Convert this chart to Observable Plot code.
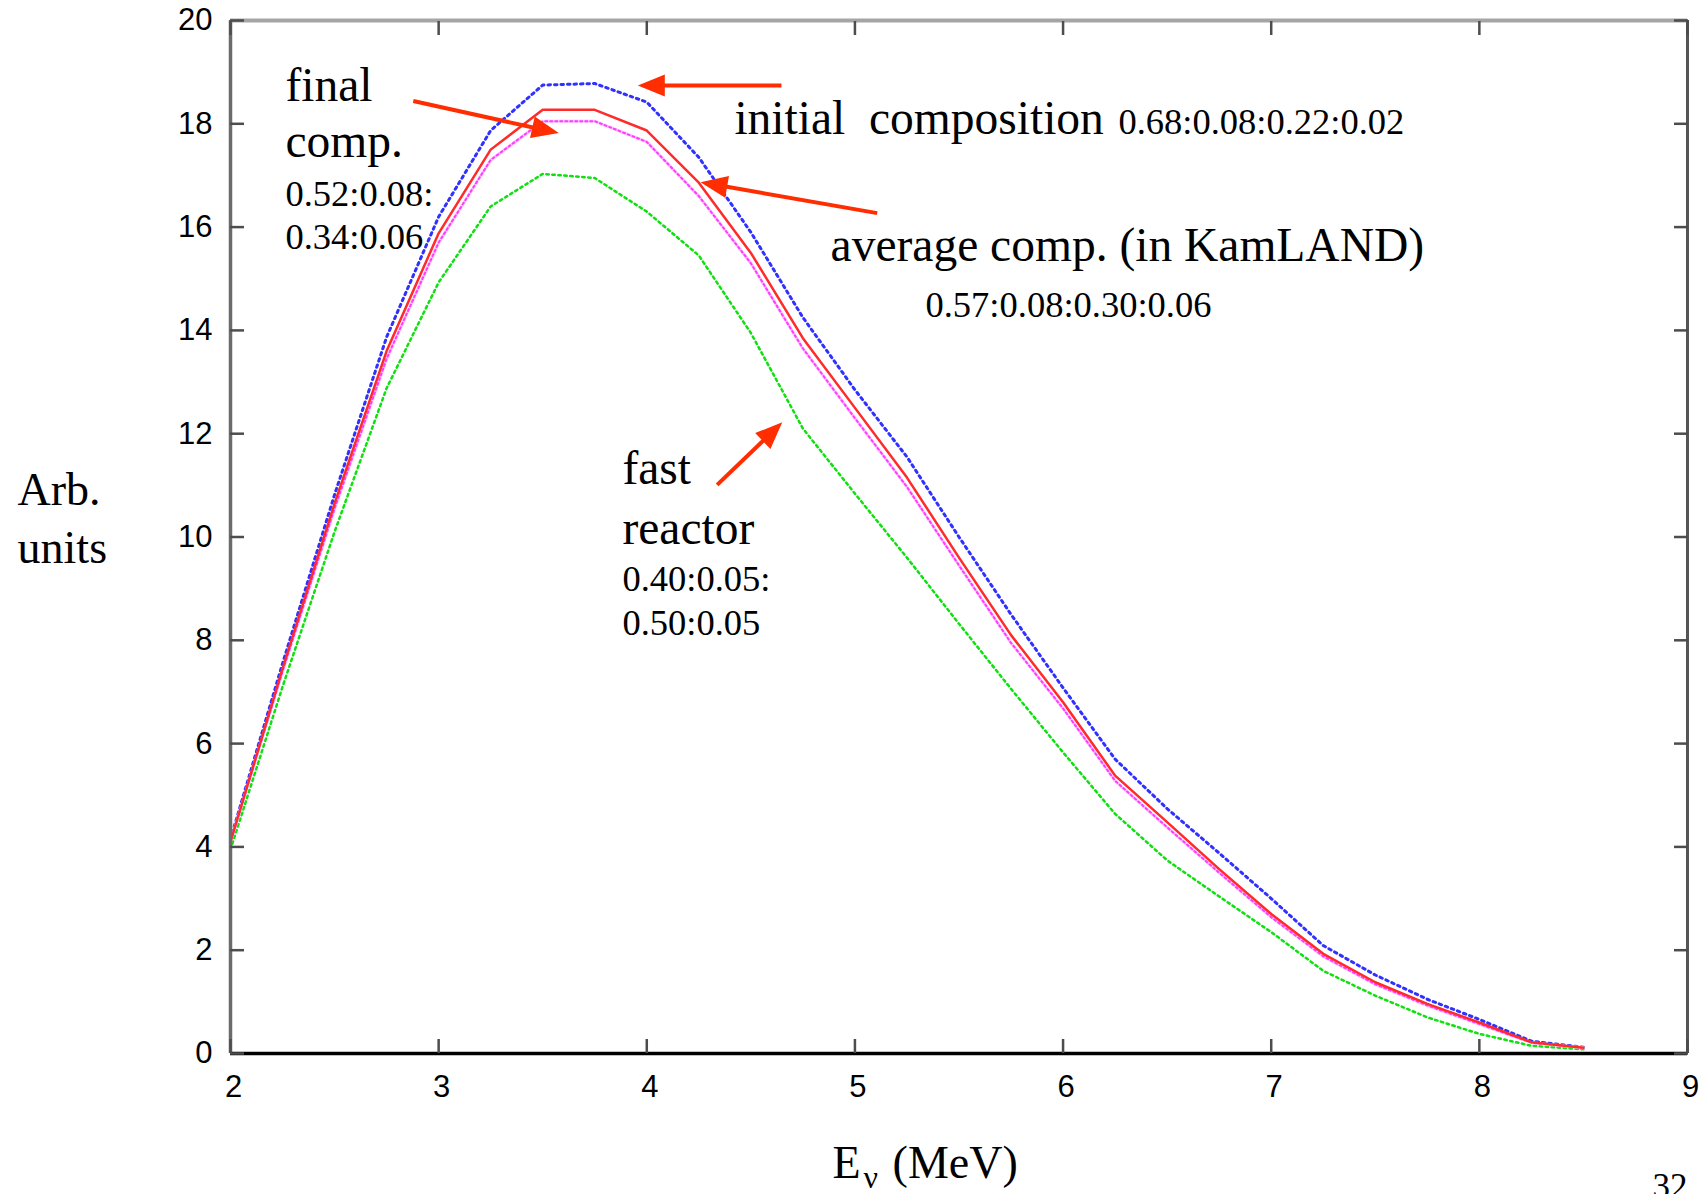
<!DOCTYPE html>
<html><head><meta charset="utf-8">
<script src="https://cdn.jsdelivr.net/npm/d3@7"></script>
<script src="https://cdn.jsdelivr.net/npm/@observablehq/plot@0.6"></script>
<style>html,body{margin:0;padding:0;background:#fff;overflow:hidden}</style>
</head><body><div id="chart"></div>
<script>
// ---- data ----
const energy      = [2, 2.25, 2.5, 2.75, 3, 3.25, 3.5, 3.75, 4, 4.25, 4.5, 4.75, 5, 5.25, 5.5, 5.75, 6, 6.25, 6.5, 6.75, 7, 7.25, 7.5, 7.75, 8, 8.25, 8.5];
const initialComp = [4.15, 7.55, 10.82, 13.87, 16.2, 17.87, 18.75, 18.78, 18.42, 17.35, 15.9, 14.25, 12.85, 11.55, 10.0, 8.5, 7.08, 5.7, 4.74, 3.88, 3.0, 2.09, 1.52, 1.05, 0.66, 0.24, 0.12];
const averageComp = [4.1, 7.45, 10.65, 13.6, 15.88, 17.5, 18.27, 18.27, 17.87, 16.86, 15.5, 13.85, 12.5, 11.15, 9.6, 8.1, 6.8, 5.38, 4.48, 3.57, 2.70, 1.93, 1.38, 0.96, 0.6, 0.22, 0.11];
const finalComp   = [4.1, 7.4, 10.55, 13.45, 15.7, 17.3, 18.05, 18.05, 17.65, 16.6, 15.3, 13.65, 12.3, 10.97, 9.45, 7.95, 6.68, 5.28, 4.38, 3.5, 2.64, 1.88, 1.34, 0.93, 0.57, 0.21, 0.11];
const fastReactor = [3.95, 7.1, 10.1, 12.88, 14.93, 16.4, 17.03, 16.95, 16.3, 15.45, 13.95, 12.1, 10.84, 9.6, 8.32, 7.06, 5.83, 4.64, 3.74, 3.04, 2.35, 1.6, 1.12, 0.7, 0.38, 0.15, 0.08];

const xTicks = [2, 3, 4, 5, 6, 7, 8, 9];
const yTicks = [0, 2, 4, 6, 8, 10, 12, 14, 16, 18, 20];

// annotation texts (data coordinates: x in MeV, y in arb. units; baseline-left)
const bigNotes = [
  {text: "final", x: 2.264, y: 18.45},
  {text: "comp.", x: 2.264, y: 17.35},
  {text: "initial\u00a0 composition", x: 4.421, y: 17.81},
  {text: "average comp. (in KamLAND)", x: 4.883, y: 15.35},
  {text: "fast", x: 3.883, y: 11.02},
  {text: "reactor", x: 3.883, y: 9.874}
];
const ratioNotes = [
  {text: "0.52:0.08:", x: 2.264, y: 16.40},
  {text: "0.34:0.06", x: 2.264, y: 15.57},
  {text: "0.68:0.08:0.22:0.02", x: 6.266, y: 17.81},
  {text: "0.57:0.08:0.30:0.06", x: 5.339, y: 14.25},
  {text: "0.40:0.05:", x: 3.883, y: 8.964},
  {text: "0.50:0.05", x: 3.883, y: 8.112}
];
const yTitle = [{text: "Arb.", x: 0.977, y: 10.61}, {text: "units", x: 0.977, y: 9.487}];
const xTitle = [{text: "E", x: 4.892, y: -2.401}, {text: "(MeV)", x: 5.181, y: -2.401}];
const xTitleSub = [{text: "ν", x: 5.041, y: -2.61}];
const pageNo = [{text: "32", x: 8.832, y: -2.80}];

const arrowList = [
  {x1: 2.878, y1: 18.44, x2: 3.577, y2: 17.82},
  {x1: 4.647, y1: 18.74, x2: 3.957, y2: 18.74},
  {x1: 5.107, y1: 16.27, x2: 4.258, y2: 16.87},
  {x1: 4.338, y1: 11.01, x2: 4.651, y2: 12.22}
];

// ---- layout ----
const W = 1704, H = 1194, ML = 230, MR = 17, MT = 20, MB = 141;
const kx = (W - ML - MR) / (9 - 2), ky = (H - MT - MB) / (20 - 0);
const headL = 27, headW = 22;
const RED = "#ff2d00";

const arrows = arrowList.map(a => {
  const sx = (a.x2 - a.x1) * kx, sy = -(a.y2 - a.y1) * ky;
  const L = Math.hypot(sx, sy), ux = sx / L, uy = sy / L;
  return {...a,
    angle: Math.atan2(sx, -sy) * 180 / Math.PI,
    ex: a.x2 - ux * (headL - 3) / kx,
    ey: a.y2 + uy * (headL - 3) / ky};
});
const arrowHead = {draw(ctx) { ctx.moveTo(0, 0); ctx.lineTo(-headW / 2, headL); ctx.lineTo(headW / 2, headL); ctx.closePath(); }};

const serif = "Liberation Serif";
const txt = (data, size, extra = {}) => Plot.text(data, {x: "x", y: "y", text: "text", fontSize: size, fontFamily: serif,
  textAnchor: "start", lineAnchor: "bottom", fill: "black", ...extra});

const tickStyle = {stroke: "#4d4d4d", strokeWidth: 2.5, tickSize: 14, fill: "none", label: null};
const fmt = d3.format("d");

const chart = Plot.plot({
  width: W, height: H,
  marginLeft: ML, marginRight: MR, marginTop: MT, marginBottom: MB,
  x: {domain: [2, 9]},
  y: {domain: [0, 20]},
  style: {fontFamily: "Liberation Sans", background: "white", color: "black", overflow: "visible"},
  marks: [
    // curves
    Plot.line(energy, {x: energy, y: fastReactor, stroke: "#10e010", strokeWidth: 2.5, strokeDasharray: "2.5 3.5"}),
    Plot.line(energy, {x: energy, y: initialComp, stroke: "#3030ff", strokeWidth: 3, strokeDasharray: "2.5 4"}),
    Plot.line(energy, {x: energy, y: finalComp, stroke: "#ffc4ff", strokeWidth: 3}),
    Plot.line(energy, {x: energy, y: finalComp, stroke: "#ff3cff", strokeWidth: 2, strokeDasharray: "2 3"}),
    Plot.line(energy, {x: energy, y: averageComp, stroke: "#ff2a2a", strokeWidth: 2.5}),
    // frame
    Plot.ruleY([20], {stroke: "#a5a5a5", strokeWidth: 4}),
    Plot.ruleX([9], {stroke: "#555", strokeWidth: 3}),
    Plot.ruleX([2], {stroke: "#6b6b6b", strokeWidth: 3.5}),
    Plot.ruleY([0], {stroke: "black", strokeWidth: 3.5}),
    // inward ticks on all four sides
    Plot.axisX(xTicks, {anchor: "bottom", dy: -14, ...tickStyle}),
    Plot.axisX(xTicks, {anchor: "top", dy: 14, ...tickStyle}),
    Plot.axisY(yTicks, {anchor: "left", dx: 14, ...tickStyle}),
    Plot.axisY(yTicks, {anchor: "right", dx: -14, ...tickStyle}),
    // tick labels
    Plot.axisX(xTicks, {anchor: "bottom", tickSize: 0, tickPadding: 21, dx: 3, fontSize: 31, tickFormat: fmt, label: null, fill: "black"}),
    Plot.axisY(yTicks, {anchor: "left", tickSize: 0, tickPadding: 18, fontSize: 31, tickFormat: fmt, label: null, fill: "black"}),
    // annotations
    txt(bigNotes, 47.5),
    txt(ratioNotes, 36.5),
    txt(yTitle, 46),
    txt(xTitle, 46),
    txt(xTitleSub, 32),
    txt(pageNo, 35),
    // arrows
    Plot.link(arrows, {x1: "x1", y1: "y1", x2: "ex", y2: "ey", stroke: RED, strokeWidth: 4}),
    Plot.dot(arrows, {x: "x2", y: "y2", r: 1, symbol: arrowHead, rotate: "angle", fill: RED, stroke: "none"})
  ]
});
document.getElementById("chart").appendChild(chart);
</script>
</body></html>
